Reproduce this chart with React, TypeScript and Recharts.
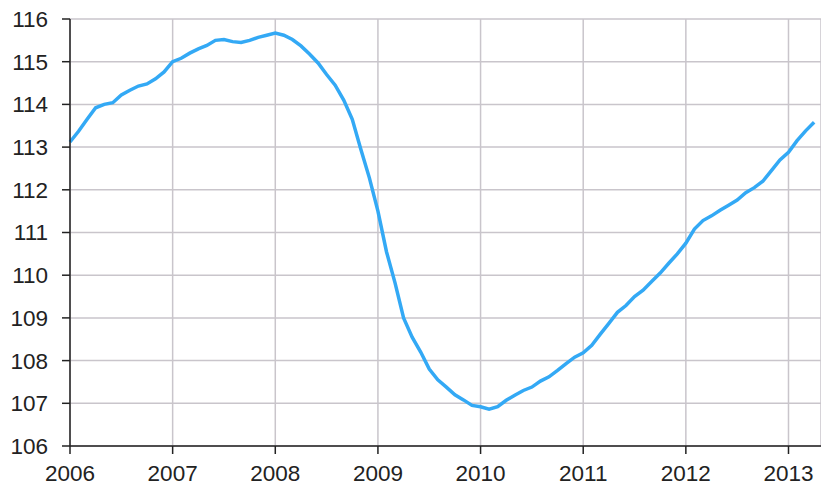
import React from 'react';
import { LineChart, Line, XAxis, YAxis, CartesianGrid } from 'recharts';

// monthly index values, Jan 2006 .. Apr 2013
const values = [
  113.12, 113.37, 113.65, 113.92, 114.0, 114.04, 114.22, 114.33, 114.43, 114.48, 114.6, 114.76,
  115.0, 115.08, 115.2, 115.3, 115.38, 115.5, 115.52, 115.47, 115.45, 115.5, 115.57, 115.62,
  115.67, 115.62, 115.52, 115.37, 115.18, 114.97, 114.7, 114.45, 114.1, 113.65, 112.95, 112.28,
  111.5, 110.55, 109.82, 109.0, 108.55, 108.2, 107.8, 107.55, 107.38, 107.2, 107.08, 106.95,
  106.92, 106.86, 106.92, 107.07, 107.19, 107.3, 107.38, 107.52, 107.62, 107.77, 107.93, 108.08,
  108.18, 108.36, 108.62, 108.87, 109.13, 109.29, 109.5, 109.65, 109.85, 110.05, 110.28, 110.5,
  110.75, 111.08, 111.28, 111.39, 111.52, 111.64, 111.76, 111.93, 112.05, 112.2, 112.45, 112.7,
  112.88, 113.15, 113.38, 113.58,
];

const years = ['2006', '2007', '2008', '2009', '2010', '2011', '2012', '2013'];
const yTicks = [106, 107, 108, 109, 110, 111, 112, 113, 114, 115, 116];

const data = values.map((v, i) => ({ m: i, value: v }));
const xTicks = years.map((_, i) => i * 12);

const tickStyle = { fontSize: 22.5, fill: '#222', fontFamily: '"Liberation Sans", Arial, sans-serif' };

export default function App() {
  return (
    <div style={styles.wrap}>
      <LineChart width={821} height={485} data={data} margin={{ top: 19, right: 0, left: 0, bottom: 0 }}>
        <CartesianGrid stroke="#C9C5CB" strokeWidth={1.5} />
        <XAxis
          type="number"
          dataKey="m"
          domain={[0, 87.8]}
          ticks={xTicks}
          interval={0}
          tickFormatter={(t: number) => years[Math.round(t / 12)]}
          height={39}
          tickSize={8}
          tickMargin={11}
          stroke="#222"
          strokeWidth={1.5}
          tick={tickStyle}
        />
        <YAxis
          type="number"
          domain={[106, 116]}
          ticks={yTicks}
          interval={0}
          width={70}
          tickSize={8}
          tickMargin={14}
          stroke="#222"
          strokeWidth={1.5}
          tick={tickStyle}
        />
        <Line
          type="linear"
          dataKey="value"
          stroke="#33A9F5"
          strokeWidth={3.5}
          dot={false}
          isAnimationActive={false}
        />
      </LineChart>
    </div>
  );
}

const styles: Record<string, React.CSSProperties> = {
  wrap: {
    position: 'absolute',
    left: 0,
    top: 0,
    width: 821,
    height: 485,
    background: '#fff',
  },
};
